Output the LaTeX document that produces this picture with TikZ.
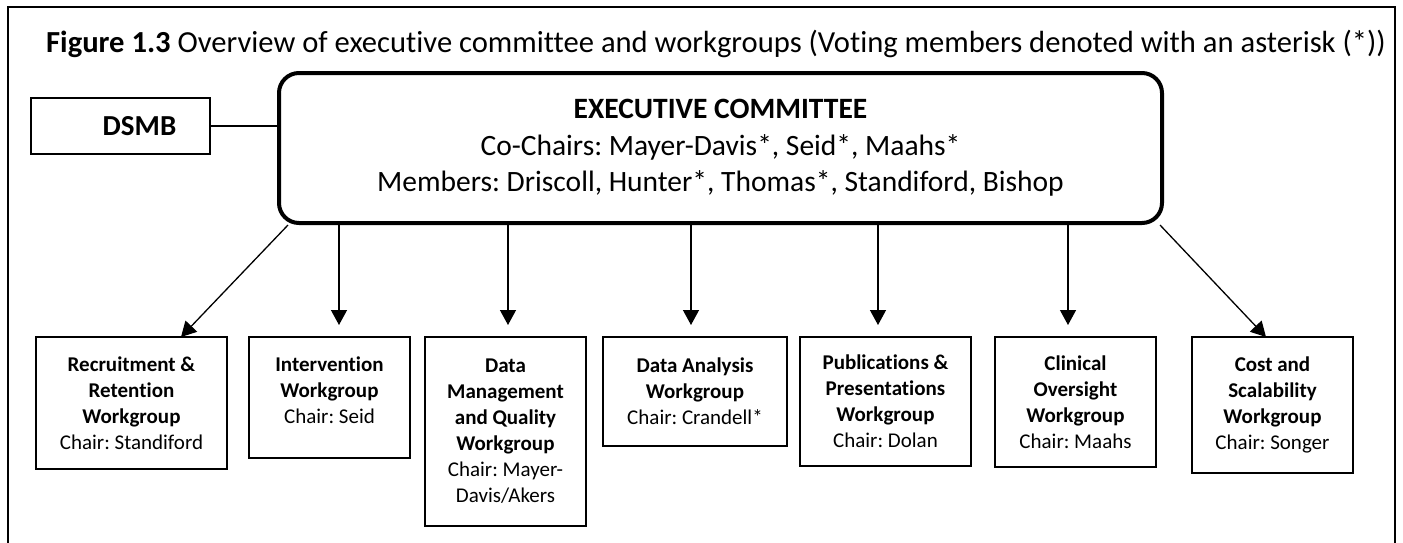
\documentclass[tikz,border=0pt]{standalone}
\usepackage{fontspec}
\setmainfont{Carlito}[Ligatures=NoCommon]
\frenchspacing
\usetikzlibrary{arrows.meta,positioning}

\begin{document}
\begin{tikzpicture}[x=1pt, y=-1pt,
  exec/.style={draw, line width=4pt, rounded corners=20pt, minimum width=883pt, minimum height=150pt, align=center, font=\fontsize{29.5}{36.5}\selectfont},
  dsmb/.style={draw, line width=2pt, minimum width=179pt, minimum height=56pt, font=\fontsize{29}{34}\selectfont\bfseries},
  wg/.style={draw, line width=2pt, outer sep=0pt, inner sep=0pt, anchor=north west, align=center, font=\fontsize{21}{26}\selectfont},
  arr/.style={-{Triangle[width=16pt,length=15pt]}, line width=1.3pt}]

  \useasboundingbox (0,0) rectangle (1403,542);

  % Frame
  \draw[line width=1.6pt] (8,550) -- (8,7) -- (1395,7) -- (1395,550);

  % Title
  \node[anchor=base west, inner sep=0pt, font=\fontsize{30.6}{36}\selectfont] (title) at (46,52) {\textbf{Figure 1.3} Overview of executive committee and workgroups (Voting members denoted with an asterisk (*))};

  % Committee
  \node[exec] (exec) at (720.5,148) {\textbf{EXECUTIVE COMMITTEE}\\Co-Chairs: Mayer-Davis*, Seid*, Maahs*\\Members: Driscoll, Hunter*, Thomas*, Standiford, Bishop};
  \node[dsmb] (dsmb) at (120.5,126) {\hspace*{38pt}DSMB};
  \draw[line width=1.3pt] (dsmb.east) -- (dsmb.east -| exec.west);

  % Workgroups
  \node[wg, minimum width=191pt, minimum height=132pt] (rec) at (36,337) {\textbf{Recruitment \&}\\\textbf{Retention}\\\textbf{Workgroup}\\Chair: Standiford};
  \node[wg, right=22pt of rec.north east, anchor=north west, minimum width=161pt, minimum height=121pt] (int) {\textbf{Intervention}\\\textbf{Workgroup}\\Chair: Seid\\[-11pt]\mbox{}};
  \node[wg, right=15pt of int.north east, anchor=north west, minimum width=161pt, minimum height=189pt] (dm) {\textbf{Data}\\\textbf{Management}\\\textbf{and Quality}\\\textbf{Workgroup}\\Chair: Mayer-\\Davis/Akers};
  \node[wg, right=17pt of dm.north east, anchor=north west, minimum width=184pt, minimum height=109pt] (da) {\textbf{Data Analysis}\\\textbf{Workgroup}\\Chair: Crandell*};
  \node[wg, right=13pt of da.north east, anchor=north west, minimum width=171pt, minimum height=129pt] (pub) {\textbf{Publications \&}\\\textbf{Presentations}\\\textbf{Workgroup}\\Chair: Dolan};
  \node[wg, right=24pt of pub.north east, anchor=north west, minimum width=161pt, minimum height=130pt] (cli) {\textbf{Clinical}\\\textbf{Oversight}\\\textbf{Workgroup}\\Chair: Maahs};
  \node[wg, right=36pt of cli.north east, anchor=north west, minimum width=161pt, minimum height=136pt] (cost) {\textbf{Cost and}\\\textbf{Scalability}\\\textbf{Workgroup}\\Chair: Songer};

  % Arrow ends
  \coordinate (t1) at ([xshift=49.5pt]rec.north);
  \coordinate (t2) at ([xshift=9.5pt,yshift=12pt]int.north);
  \coordinate (t3) at ([xshift=2.5pt,yshift=12pt]dm.north);
  \coordinate (t4) at ([xshift=-4pt,yshift=12pt]da.north);
  \coordinate (t5) at ([xshift=-7.5pt,yshift=12pt]pub.north);
  \coordinate (t6) at ([xshift=-7.5pt,yshift=12pt]cli.north);
  \coordinate (t7) at ([xshift=-6.5pt]cost.north);

  % Arrows
  \draw[arr] ([xshift=11pt]exec.south west) -- (t1);
  \draw[arr] (t2 |- exec.south) -- (t2);
  \draw[arr] (t3 |- exec.south) -- (t3);
  \draw[arr] (t4 |- exec.south) -- (t4);
  \draw[arr] (t5 |- exec.south) -- (t5);
  \draw[arr] (t6 |- exec.south) -- (t6);
  \draw[arr] ([xshift=-4pt]exec.south east) -- (t7);

\end{tikzpicture}
\end{document}
